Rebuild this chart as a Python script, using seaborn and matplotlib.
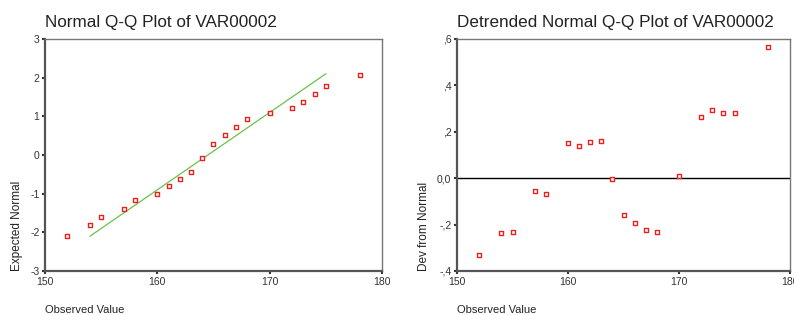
import matplotlib
matplotlib.use("Agg")
import matplotlib.pyplot as plt
import seaborn as sns
import pandas as pd

# ── data ─────────────────────────────────────────────────────────────────────
observed = [152, 154, 155, 157, 158, 160, 161, 162, 163, 164,
            165, 166, 167, 168, 170, 172, 173, 174, 175, 178]
expected = [-2.10, -1.80, -1.60, -1.40, -1.17, -1.02, -0.80, -0.62, -0.45, -0.07,
            0.28, 0.51, 0.72, 0.93, 1.08, 1.21, 1.38, 1.58, 1.78, 2.08]
deviation = [-0.330, -0.235, -0.230, -0.055, -0.070, 0.150, 0.140, 0.155, 0.162, -0.005,
             -0.160, -0.195, -0.225, -0.230, 0.010, 0.262, 0.293, 0.280, 0.280, 0.567]
fit_x = [154, 175]
fit_y = [-2.1, 2.1]

x_ticks = [150, 160, 170, 180]
left_yticks = [-3, -2, -1, 0, 1, 2, 3]
right_yticks = [-0.4, -0.2, 0.0, 0.2, 0.4, 0.6]
right_ylabels = ["-,4", "-,2", "0,0", ",2", ",4", ",6"]

df = pd.DataFrame({"obs": observed, "exp": expected, "dev": deviation})
fit = pd.DataFrame({"x": fit_x, "y": fit_y})

sns.set_style("white")
plt.rcParams["font.family"] = ["Liberation Sans", "DejaVu Sans"]
plt.rcParams["axes.unicode_minus"] = False

fig = plt.figure(figsize=(7.94, 3.15), dpi=100)
ax1 = fig.add_axes([45 / 794, 1 - 271 / 315, 337 / 794, 232 / 315])
ax2 = fig.add_axes([457 / 794, 1 - 271 / 315, 333 / 794, 232 / 315])

RED = "#e8211c"
tick_col = "#333333"

sns.lineplot(data=fit, x="x", y="y", ax=ax1, color="#6cc04a", lw=0.9)
sns.scatterplot(data=df, x="obs", y="exp", ax=ax1, marker="s", s=10,
                facecolor="white", edgecolor=RED, linewidth=1.0, zorder=3)

ax2.axhline(0, color="black", lw=1.0, zorder=1)
sns.scatterplot(data=df, x="obs", y="dev", ax=ax2, marker="s", s=10,
                facecolor="white", edgecolor=RED, linewidth=1.0, zorder=3)

for ax, title, ylab in [(ax1, "Normal Q-Q Plot of VAR00002", "Expected Normal"),
                        (ax2, "Detrended Normal Q-Q Plot of VAR00002", "Dev from Normal")]:
    ax.set_xlim(150, 180)
    ax.set_xticks(x_ticks)
    ax.set_xlabel("")
    ax.set_ylabel(ylab, fontsize=8.5, color="#222222", labelpad=5, loc="bottom")
    ax.set_title(title, fontsize=12.3, loc="left", x=0.0, y=1.0, pad=9, color="#222222")
    ax.text(0, -0.145, "Observed Value", transform=ax.transAxes, fontsize=8,
            color="#222222", va="top", ha="left")
    for side in ("left", "bottom"):
        ax.spines[side].set_color("#555555")
        ax.spines[side].set_linewidth(1.6)
    for side in ("top", "right"):
        ax.spines[side].set_color("#777777")
        ax.spines[side].set_linewidth(1.0)
    ax.tick_params(axis="both", direction="out", length=2, width=1.5,
                   colors=tick_col, labelsize=7.5, pad=2, left=True, bottom=True)

ax1.set_ylim(-3, 3)
ax1.set_yticks(left_yticks)
ax2.set_ylim(-0.4, 0.6)
ax2.set_yticks(right_yticks)
ax2.set_yticklabels(right_ylabels)

fig.savefig("out.png", dpi=100)
